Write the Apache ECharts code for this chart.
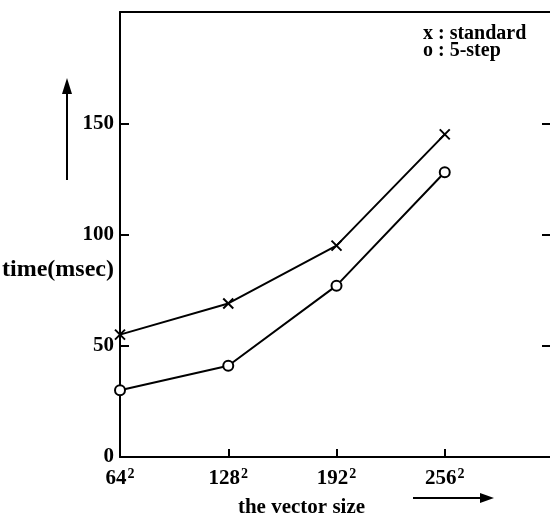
<!DOCTYPE html>
<html><head><meta charset="utf-8">
<script src="https://cdn.jsdelivr.net/npm/echarts@6/dist/echarts.min.js"></script>
<style>html,body{margin:0;padding:0;background:#fff}#c{width:550px;height:516px}</style>
</head><body><div id="c"></div>
<script>
const sizes = [64, 128, 192, 256];
const standardTimes = [55, 69, 95, 145];
const fiveStepTimes = [30, 41, 77, 128];
const yTicks = [0, 50, 100, 150];

const F = '"Liberation Serif", "DejaVu Serif", serif';
const chart = echarts.init(document.getElementById('c'));
const crossPath = 'path://M0,0 L10,10 M10,0 L0,10';
chart.setOption({
  animation: false,
  backgroundColor: '#fff',
  grid: { left: 120, top: 12, width: 433, height: 445, outerBoundsMode: 'none', containLabel: false, show: false },
  xAxis: [{
    type: 'value', min: 64, max: 320, interval: 64,
    axisLine: { onZero: false, lineStyle: { color: '#000', width: 2 } },
    axisTick: { inside: true, length: 8, lineStyle: { color: '#000', width: 2 } },
    splitLine: { show: false },
    axisLabel: {
      margin: 10, color: '#000', fontFamily: F, fontSize: 21,
      formatter: v => sizes.indexOf(v) >= 0 ? '{b|' + v + '}{s|2}' : '',
      rich: { b: { fontFamily: F, fontSize: 21, fontWeight: 'bold', color: '#000' },
              s: { fontFamily: F, fontSize: 14, fontWeight: 'bold', color: '#000', padding: [0, 0, 10, 1] } }
    },
    name: 'the vector size', nameLocation: 'middle', nameGap: 40,
    nameTextStyle: { fontFamily: F, fontSize: 21, fontWeight: 'bold', color: '#000', padding: [0, 0, 0, -70] }
  }, {
    type: 'value', min: 64, max: 320, interval: 64, position: 'top',
    axisLine: { show: true, onZero: false, lineStyle: { color: '#000', width: 2 } },
    axisTick: { show: false }, axisLabel: { show: false }, splitLine: { show: false }
  }],
  yAxis: [{
    type: 'value', min: 0, max: 200, interval: 50,
    axisLine: { onZero: false, lineStyle: { color: '#000', width: 2 } },
    axisTick: { inside: true, length: 9, lineStyle: { color: '#000', width: 2 } },
    splitLine: { show: false },
    axisLabel: { margin: 6, color: '#000', fontFamily: F, fontSize: 21, fontWeight: 'bold',
      formatter: v => yTicks.indexOf(v) >= 0 ? String(v) : '' }
  }, {
    type: 'value', min: 0, max: 200, interval: 50, position: 'right',
    axisLine: { show: false, onZero: false },
    axisTick: { show: true, inside: true, length: 11, lineStyle: { color: '#000', width: 2 } },
    axisLabel: { show: false }, splitLine: { show: false }
  }],
  series: [{
    name: 'standard', type: 'line',
    data: sizes.map((s, i) => [s, standardTimes[i]]),
    symbol: crossPath, symbolSize: 10,
    lineStyle: { color: '#000', width: 2 },
    itemStyle: { color: '#000', borderColor: '#000', borderWidth: 2 }
  }, {
    name: '5-step', type: 'line',
    data: sizes.map((s, i) => [s, fiveStepTimes[i]]),
    symbol: 'circle', symbolSize: 10,
    lineStyle: { color: '#000', width: 2 },
    itemStyle: { color: '#fff', borderColor: '#000', borderWidth: 2 }
  }],
  graphic: [
    { type: 'text', left: 2, top: 258, style: { text: 'time(msec)', font: 'bold 24px ' + F, fill: '#000' } },
    { type: 'line', shape: { x1: 67, y1: 92, x2: 67, y2: 180 }, style: { stroke: '#000', lineWidth: 2 } },
    { type: 'polygon', shape: { points: [[62, 94], [72, 94], [67, 78]] }, style: { fill: '#000' } },
    { type: 'line', shape: { x1: 413, y1: 498, x2: 482, y2: 498 }, style: { stroke: '#000', lineWidth: 2 } },
    { type: 'polygon', shape: { points: [[480, 493], [480, 503], [494, 498]] }, style: { fill: '#000' } },
    { type: 'text', left: 423, top: 24, style: { text: 'x : standard', font: 'bold 20px ' + F, fill: '#000' } },
    { type: 'text', left: 423, top: 41, style: { text: 'o : 5-step', font: 'bold 20px ' + F, fill: '#000' } }
  ]
});
</script></body></html>
